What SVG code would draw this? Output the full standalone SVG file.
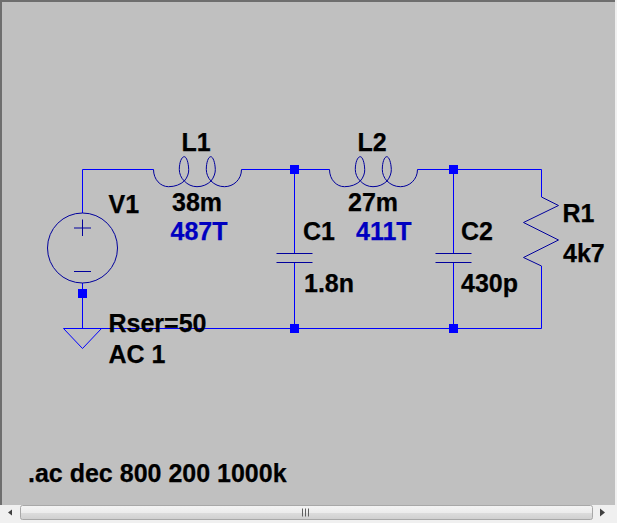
<svg xmlns="http://www.w3.org/2000/svg" width="617" height="523" viewBox="0 0 617 523">
<style>
text{font-family:"Liberation Sans",Arial,sans-serif;font-weight:700;font-size:25px;fill:#000;stroke:#000;stroke-width:.25}
text.b{fill:#0000c0;stroke:#0000c0}
.w{fill:none;stroke:#0000ff;stroke-width:1}
.s{fill:none;stroke:#00009c;stroke-width:1}
.j{fill:#0000ff}
</style>
<defs>
<path id="ind" class="s" d="M0 0C0 10 7 17.200 15 17.200C21.500 17.200 27 15 30.800 11.500C34 8 35.500 3 35.200 0C35-7 33-12.800 30.800-12.800C28-12.800 25.800-7 25.800 0C25.800 4 27.500 8.500 30.800 11.500C34 15 38.500 17.200 43.500 17.200C49 17.200 54 15 57.500 11.500C60.500 8 62 3 61.800 0C61.600-7 59.500-12.800 57.300-12.800C54.800-12.800 52.800-7 52.800 0C52.800 4 54.500 8.500 57.500 11.500C61 15 65.500 17.200 71 17.200C80 17.200 88 10 88 0"/>
<linearGradient id="sb" x1="0" y1="0" x2="0" y2="1"><stop offset="0" stop-color="#f4f4f4"/><stop offset=".5" stop-color="#ececec"/><stop offset=".55" stop-color="#dcdcdc"/><stop offset="1" stop-color="#cfcfcf"/></linearGradient>
</defs>
<rect width="617" height="523" fill="#f0f0f0"/>
<rect x="0" y="0" width="615" height="505" fill="#c0c0c0"/>
<path d="M1 505V1H615" fill="none" stroke="#6e6e6e" stroke-width="2"/>
<g id="scrollbar">
<rect x="0" y="505" width="617" height="18" fill="#f0f0f0"/>
<rect x="20.500" y="505.500" width="572" height="14" rx="2" fill="url(#sb)" stroke="#a8a8a8"/>
<path d="M8 512.500L12 509.500V515.500Z" fill="#404040"/>
<path d="M605 512.500L600 508.500V516.500Z" fill="#404040"/>
<path d="M302.500 508.500V516.500M305.500 508.500V516.500M308.500 508.500V516.500" stroke="#606060" fill="none"/>
</g>
<g id="connectors">
<path class="w" d="M82.500 213V169.500H153.500M241.500 169.500H329.500M417.500 169.500H541.500V197M541.500 266V328.500H82.500M82.500 283V328.500M294.500 169.500V254M294.500 262V328.500M453.500 169.500V254M453.500 262V328.500"/>
</g>
<g id="V1">
<circle class="s" cx="82.500" cy="248" r="35"/>
<path class="s" d="M74 228H91M82.500 219.500V236M74 271.500H91"/>
<text x="108.500" y="213">V1</text>
<text x="108.500" y="332">Rser=50</text>
<text x="108.500" y="363">AC 1</text>
</g>
<g id="GND">
<path class="w" d="M63.500 328.500H101.500L82.500 348.500Z"/>
</g>
<g id="L1">
<use href="#ind" x="153.500" y="169.500"/>
<text x="181.500" y="151">L1</text>
<text x="172" y="211">38m</text>
<text class="b" x="170.500" y="240">487T</text>
</g>
<g id="L2">
<use href="#ind" x="329.500" y="169.500"/>
<text x="357.500" y="151">L2</text>
<text x="348" y="211">27m</text>
<text class="b" x="356" y="240">411T</text>
</g>
<g id="C1">
<path class="s" d="M276.500 253.500H312.500M276.500 262.500H312.500"/>
<text x="303" y="240">C1</text>
<text x="304" y="292">1.8n</text>
</g>
<g id="C2">
<path class="s" d="M435.500 253.500H471.500M435.500 262.500H471.500"/>
<text x="461" y="240">C2</text>
<text x="461" y="292">430p</text>
</g>
<g id="R1">
<path class="s" d="M541.500 197L558.500 205.500L523.500 222.500L558.500 240L523.500 257.500L541.500 266"/>
<text x="562.500" y="221.500">R1</text>
<text x="563" y="261.500">4k7</text>
</g>
<g id="junctions">
<rect class="j" x="78" y="289" width="9" height="9"/>
<rect class="j" x="290" y="165" width="9" height="9"/>
<rect class="j" x="290" y="324" width="9" height="9"/>
<rect class="j" x="449" y="165" width="9" height="9"/>
<rect class="j" x="449" y="324" width="9" height="9"/>
</g>
<text x="28" y="482">.ac dec 800 200 1000k</text>
</svg>
